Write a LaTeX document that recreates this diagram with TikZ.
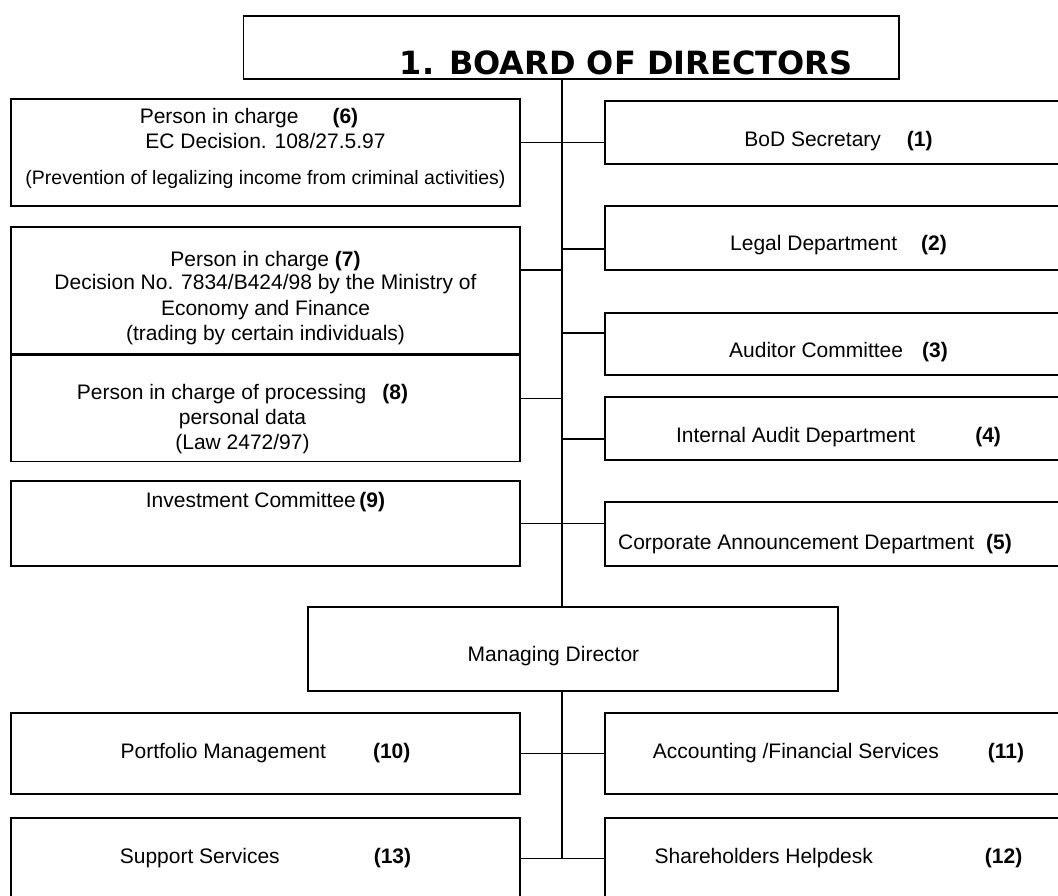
\documentclass[tikz,border=0pt]{standalone}
\usepackage{fontspec}
\setmainfont{Liberation Sans}
\newfontfamily\boardfont{DejaVu Sans}
\usetikzlibrary{positioning}
\tikzset{
box/.style={draw, line width=1.3pt, fill=white, inner sep=0pt, align=center, font=\fontsize{21}{25}\selectfont}, % every frame of the chart
leftbox/.style={box, minimum width=509pt}, % boxes left of the spine
rightbox/.style={box, minimum width=467pt}, % boxes right of the spine, they run off the page
link/.style={line width=1.2pt}, % the connecting lines
}

\begin{document}
\begin{tikzpicture}[x=1pt, y=-1pt]
    \useasboundingbox (0,0) rectangle (1058,896);
    \clip (0,0) rectangle (1058,896);
    \coordinate (spine) at (562,0);
    % board and the units that report to it
    \node[box, minimum width=655.5pt, minimum height=63pt, text height=54pt, font=\boardfont\fontsize{32}{38}\selectfont\bfseries] (board) at (571.25,47.5) {\hspace*{109.5pt}1. BOARD OF DIRECTORS};
    \node[leftbox, minimum height=107pt] (aml) at (265.5,152.5) {Person in charge\hspace{34pt}\textbf{(6)}\rule{33pt}{0pt}\\ EC Decision. 108/27.5.97\\[11pt] {\fontsize{19.5}{23}\selectfont (Prevention of legalizing income from criminal activities)}\rule[-12pt]{0pt}{0pt}};
    \node[leftbox, minimum height=127pt] (insider) at (265.5,290.5) {\rule{0pt}{30pt}Person in charge \textbf{(7)}\\[-2pt] Decision No. 7834/B424/98 by the Ministry of\\[1pt] Economy and Finance\\ (trading by certain individuals)};
    \node[leftbox, minimum height=106pt, below=0pt of insider] (data) {\rule{0pt}{37pt}Person in charge of processing\hspace{16pt}\textbf{(8)}\rule{46pt}{0pt}\\ personal data\rule{46pt}{0pt}\\ (Law 2472/97)\rule{46pt}{0pt}};
    \node[leftbox, minimum height=85pt, text depth=47pt] (invest) at (265.5,523.5) {Investment Committee\,\textbf{(9)}};
    \node[rightbox, minimum height=63pt, text height=33pt] (sec) at (838.5,132.5) {BoD Secretary\hspace{26pt}\textbf{(1)}};
    \node[rightbox, minimum height=64pt, text height=29pt] (legal) at (838.5,238) {Legal Department\hspace{24pt}\textbf{(2)}};
    \node[rightbox, minimum height=62pt, text height=31pt] (audit) at (838.5,344) {Auditor Committee\hspace{19pt}\textbf{(3)}};
    \node[rightbox, minimum height=63pt, text height=32pt] (internal) at (838.5,428.5) {Internal Audit Department\hspace{60pt}\textbf{(4)}};
    \node[rightbox, minimum height=64pt, text height=35pt] (announce) at (838.5,534) {Corporate Announcement Department\hspace{12pt}\textbf{(5)}\rule{47pt}{0pt}};
    % managing director and the services
    \node[box, minimum width=530pt, minimum height=84pt, text height=29pt] (md) at (573,649) {Managing Director\rule{39pt}{0pt}};
    \node[leftbox, minimum height=81pt] (portfolio) at (265.5,753.5) {Portfolio Management\hspace{47pt}\textbf{(10)}};
    \node[rightbox, minimum height=81pt] (accounting) at (838.5,753.5) {Accounting /Financial Services\hspace{49pt}\textbf{(11)}};
    \node[leftbox, minimum height=81pt] (support) at (265.5,858.5) {Support Services\hspace{94pt}\textbf{(13)}};
    \node[rightbox, minimum height=81pt] (helpdesk) at (838.5,858.5) {Shareholders Helpdesk\hspace{112pt}\textbf{(12)}};
    \draw[link]
    (board.south -| spine) -- (md.north -| spine)
    (md.south -| spine) -- (support.east -| spine)
    ([yshift=9.8pt]aml.east) -- ([yshift=9.8pt]aml.east -| sec.west)
    ([yshift=-11pt]legal.west) -- ([yshift=-11pt]legal.west -| spine)
    ([yshift=20.5pt]insider.east) -- ([yshift=20.5pt]insider.east -| spine)
    ([yshift=11pt]audit.west) -- ([yshift=11pt]audit.west -| spine)
    ([yshift=10pt]data.east) -- ([yshift=10pt]data.east -| spine)
    ([yshift=-10.5pt]internal.west) -- ([yshift=-10.5pt]internal.west -| spine)
    (invest.east) -- (invest.east -| announce.west)
    (portfolio.east) -- (accounting.west)
    (support.east) -- (helpdesk.west);
\end{tikzpicture}
\end{document}
